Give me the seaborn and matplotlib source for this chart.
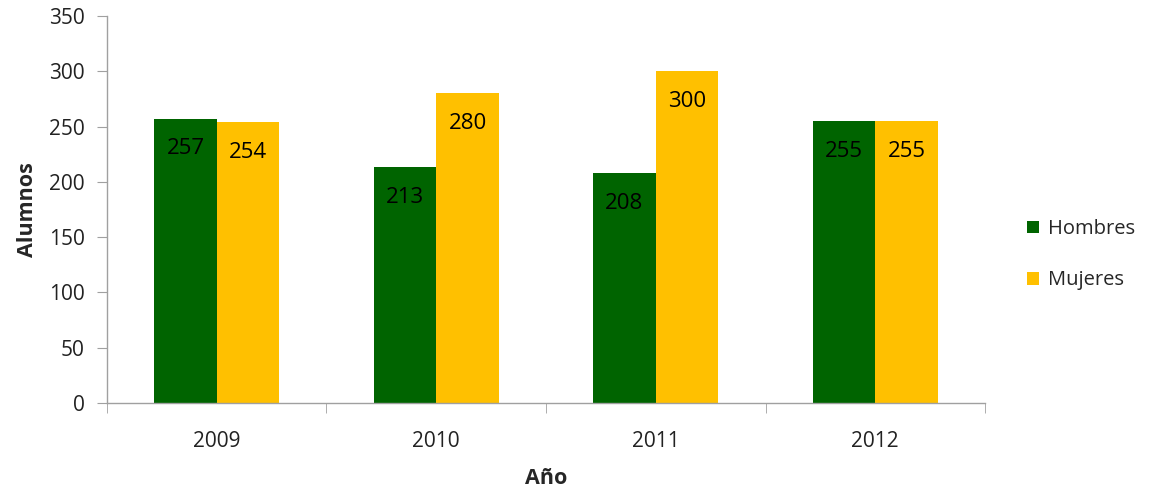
import pandas as pd
import matplotlib.pyplot as plt
import seaborn as sns
from matplotlib.ticker import FixedLocator

years = ['2009', '2010', '2011', '2012']
hombres = [257, 213, 208, 255]
mujeres = [254, 280, 300, 255]
series = ['Hombres', 'Mujeres']
colors = ['#006400', '#FFC000']

df = pd.DataFrame({
    'Año': years * 2,
    'Alumnos': hombres + mujeres,
    'Sexo': ['Hombres'] * 4 + ['Mujeres'] * 4,
})

sns.set_style('white')
plt.rcParams['font.family'] = ['Open Sans', 'DejaVu Sans']

fig = plt.figure(figsize=(11.54, 4.9), dpi=100)
ax = fig.add_axes([0.0927, 0.1776, 0.7609, 0.7897])

sns.barplot(data=df, x='Año', y='Alumnos', hue='Sexo', hue_order=series,
            palette=colors, width=0.57, saturation=1, linewidth=0,
            ax=ax, legend=True)

for p in ax.patches:
    h = p.get_height()
    if h > 0:
        ax.annotate(f'{h:.0f}', (p.get_x() + p.get_width() / 2, h),
                    xytext=(0, -30), textcoords='offset pixels',
                    ha='center', va='center', fontsize=16, color='black')

ax.set_xlim(-0.5, 3.5)
ax.set_ylim(0, 350)
ax.set_yticks(range(0, 351, 50))
ax.tick_params(axis='y', labelsize=15, length=7, color='#a0a0a0', left=True,
               direction='out', labelcolor='#222222', pad=9)
ax.xaxis.set_minor_locator(FixedLocator([-0.5, 0.5, 1.5, 2.5, 3.5]))
ax.tick_params(axis='x', which='major', length=0, pad=20, labelsize=15,
               labelcolor='#222222')
ax.tick_params(axis='x', which='minor', length=7, color='#a0a0a0',
               bottom=True, direction='out')

for s in ['top', 'right']:
    ax.spines[s].set_visible(False)
for s in ['left', 'bottom']:
    ax.spines[s].set_color('#a0a0a0')
    ax.spines[s].set_linewidth(1)

ax.set_ylabel('Alumnos', fontsize=15.5, fontweight='bold', labelpad=8)
ax.set_xlabel('Año', fontsize=15.5, fontweight='bold', labelpad=12)

ax.legend(loc='center left', bbox_to_anchor=(0.874, 0.48),
          bbox_transform=fig.transFigure, frameon=False, fontsize=14.5,
          handlelength=0.6, handleheight=0.6, handletextpad=0.45,
          labelspacing=1.55, title=None)

fig.savefig('out.png', dpi=100)
